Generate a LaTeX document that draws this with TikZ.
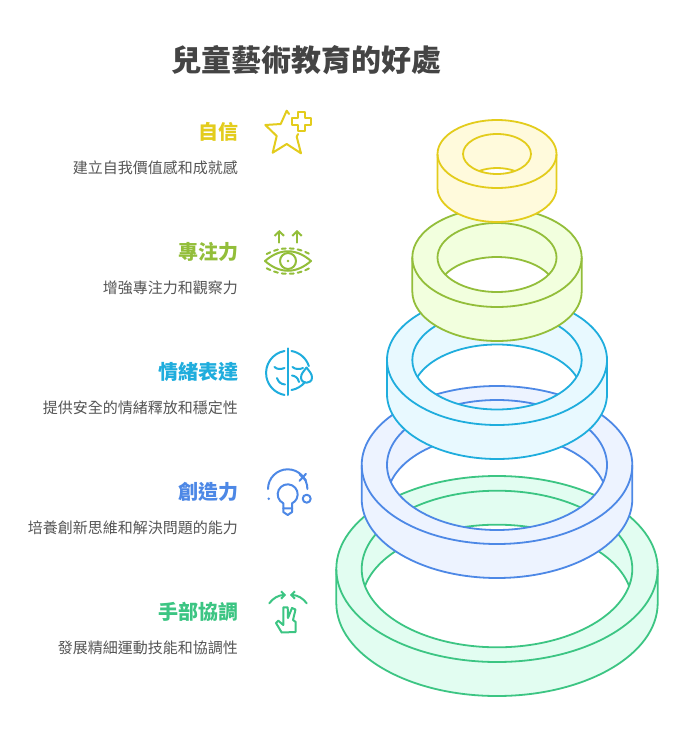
\documentclass[tikz,border=0pt]{standalone}
\usepackage{fontspec}
\newfontfamily\cjk{Noto Sans CJK TC}
\definecolor{yellowline}{HTML}{E3CC1C}
\definecolor{yellowfill}{HTML}{FFFADC}
\definecolor{limeline}{HTML}{93BE3A}
\definecolor{limefill}{HTML}{F2FFDE}
\definecolor{skyline}{HTML}{1FADDD}
\definecolor{skyfill}{HTML}{E8F9FF}
\definecolor{blueline}{HTML}{4D88E6}
\definecolor{bluefill}{HTML}{EDF3FF}
\definecolor{mintline}{HTML}{3CC583}
\definecolor{mintfill}{HTML}{E2FDF1}
\definecolor{titlegray}{HTML}{444444}
\definecolor{textgray}{HTML}{555555}
\usetikzlibrary{arrows.meta}
\tikzset{
    bigtitle/.style={font=\cjk\bfseries\fontsize{30}{30}\selectfont, text=titlegray},
    itemtitle/.style={anchor=east, inner sep=0pt, font=\cjk\bfseries\fontsize{20}{20}\selectfont},
    itemtext/.style={anchor=east, inner sep=0pt, text=textgray, font=\cjk\fontsize{15}{15}\selectfont},
    ringline/.style={line width=1.8pt},
    iconline/.style={line width=2pt, line cap=round, line join=round},
    tipline/.style={iconline, -{Straight Barb[length=4.5pt,width=9.5pt,line width=2pt]}},
    smalltip/.style={iconline, -{Straight Barb[length=3.5pt,width=7.5pt,line width=2pt]}},
}
% one ring: centre y, outer radii, inner radii, colour prefix
\newcommand{\ringlayer}[6]{
    \pgfmathsetmacro{\ringcut}{asin(17/#5)}
    \pgfmathsetmacro{\ringx}{497-#4*cos(\ringcut)}
    \fill[#6fill, even odd rule]
        (497-#2,#1) arc[start angle=180, end angle=0, x radius=#2pt, y radius=#3pt]
        -- ++(0,34) arc[start angle=0, end angle=-180, x radius=#2pt, y radius=#3pt] -- cycle
        (\ringx,#1+17) arc[start angle=180+\ringcut, end angle=360-\ringcut, x radius=#4pt, y radius=#5pt]
        arc[start angle=\ringcut, end angle=180-\ringcut, x radius=#4pt, y radius=#5pt] -- cycle;
    \draw[#6line, ringline]
        (497-#2,#1) -- ++(0,34) arc[start angle=180, end angle=360, x radius=#2pt, y radius=#3pt] -- ++(0,-34);
    \draw[#6line, ringline] (497,#1) ellipse[x radius=#2pt, y radius=#3pt];
    \draw[#6line, ringline] (497,#1) ellipse[x radius=#4pt, y radius=#5pt];
    \draw[#6line, ringline]
        (\ringx,#1+17) arc[start angle=180-\ringcut, end angle=\ringcut, x radius=#4pt, y radius=#5pt];
}
\begin{document}
\begin{tikzpicture}[x=1pt, y=-1pt]
    \useasboundingbox (0,0) rectangle (682,744);
    \fill[white] (0,0) rectangle (682,744);

    \node[bigtitle] (title) at (306.5,60) {兒童藝術教育的好處};

    \node[itemtitle, text=yellowline] (confidence) at (239,132) {自信};
    \node[itemtext] (confidencetext) at (238,168) {建立自我價值感和成就感};
    \node[itemtitle, text=limeline] (focus) at (239,252) {專注力};
    \node[itemtext] (focustext) at (238,288) {增強專注力和觀察力};
    \node[itemtitle, text=skyline] (emotion) at (239,372) {情緒表達};
    \node[itemtext] (emotiontext) at (238,408) {提供安全的情緒釋放和穩定性};
    \node[itemtitle, text=blueline] (creative) at (239,492) {創造力};
    \node[itemtext] (creativetext) at (238,528) {培養創新思維和解決問題的能力};
    \node[itemtitle, text=mintline] (hands) at (239,612) {手部協調};
    \node[itemtext] (handstext) at (238,648) {發展精細運動技能和協調性};

    % rings, lowest first
    \ringlayer{569}{160.7}{93}{135.3}{78.3}{mint}
    \ringlayer{465}{135.3}{79}{110}{65}{blue}
    \ringlayer{360}{110}{65}{84.7}{49.5}{sky}
    \ringlayer{257.5}{84.7}{49.5}{59.5}{34.5}{lime}
    \ringlayer{154}{59.5}{34}{34}{20}{yellow}

    % star
    \draw[iconline, yellowline] (289,114) -- (286.7,110.7) -- (280.7,124) -- (265.3,125) -- (276.7,136)
        -- (272.7,152.7) -- (286.7,144) -- (301,153.3) -- (296.7,136.7) -- (298,134);
    \draw[iconline, yellowline] (298.2,112.4) -- (305.2,112.4) -- (305.2,118.2) -- (311,118.2) -- (311,125.2)
        -- (305.2,125.2) -- (305.2,131) -- (298.2,131) -- (298.2,125.2) -- (292.4,125.2) -- (292.4,118.2)
        -- (298.2,118.2) -- cycle;

    % eye
    \draw[tipline, limeline] (279.3,242.7) -- (279.3,230);
    \draw[tipline, limeline] (297,242.7) -- (297,230);
    \draw[iconline, limeline] (265,261) .. controls (280,248) and (296,248) .. (311,261)
        .. controls (296,274) and (280,274) .. cycle;
    \draw[iconline, limeline] (288,261) circle (8);
    \fill[limeline] (288,261) circle (1.3);
    \draw[iconline, limeline, dash pattern=on 4pt off 4pt] (266.7,254) .. controls (280,246.5) and (296,246.5) .. (309,253.7);
    \draw[iconline, limeline, dash pattern=on 4pt off 4pt] (266.7,268.3) .. controls (280,275.7) and (296,275.7) .. (309.3,268.3);

    % face
    \draw[iconline, skyline] (288,348.3) -- (288,395);
    \draw[iconline, skyline] (284.5,351) arc[start angle=100, end angle=260, radius=22.3pt];
    \draw[iconline, skyline] (291.5,351) arc[start angle=80, end angle=18, radius=22.3pt];
    \draw[iconline, skyline] (291.5,390) arc[start angle=-80, end angle=-40, radius=22.3pt];
    \draw[iconline, skyline] (274.5,367) .. controls (277,369.5) and (281,369.5) .. (284.5,368);
    \draw[iconline, skyline] (292.5,367) .. controls (295,369.5) and (300,369.5) .. (303,368);
    \draw[iconline, skyline] (277,378) .. controls (278.5,382.5) and (281,384) .. (285,384.5);
    \draw[iconline, skyline] (292,375.5) .. controls (295.5,376) and (298,378) .. (299,382);
    \draw[iconline, skyline] (306.5,367.5) .. controls (303.5,371.5) and (301,374) .. (301,377.5)
        .. controls (301,384.5) and (312,384.5) .. (312,377.5) .. controls (312,374) and (309.5,371.5) .. (306.5,367.5) -- cycle;

    % bulb
    \draw[iconline, blueline] (268,489) arc[start angle=180, end angle=0, radius=19.7pt];
    \draw[iconline, blueline] (299.5,480.8) -- (306,473.8);
    \draw[iconline, blueline] (299.5,474.3) -- (306,480.3);
    \fill[blueline] (268.7,498.7) circle (1.4);
    \draw[iconline, blueline] (306.7,498.7) circle (4);
    \draw[iconline, blueline] (283.3,508.3) -- (283.3,503.3) arc[start angle=244, end angle=-64, radius=10pt]
        -- (292.1,508.3) -- cycle;
    \draw[iconline, blueline] (283.3,508.3) -- (283.3,512) -- (287.7,515) -- (292.1,512) -- (292.1,508.3);

    % hand
    \draw[smalltip, mintline] (269.3,603.3) .. controls (273,598) and (279,595) .. (286,595);
    \draw[smalltip, mintline] (306.7,603.3) .. controls (303,598) and (297,595) .. (290,595);
    \draw[iconline, mintline] (283.3,625) -- (283.3,607.3) -- (287.7,607.3) -- (288,618) -- (292,608)
        -- (295.5,609.5) -- (293,620) -- (295.7,622) -- (295.7,632) -- (281.7,632.5) -- (276,623)
        -- (278.3,620.7) -- cycle;
\end{tikzpicture}
\end{document}
